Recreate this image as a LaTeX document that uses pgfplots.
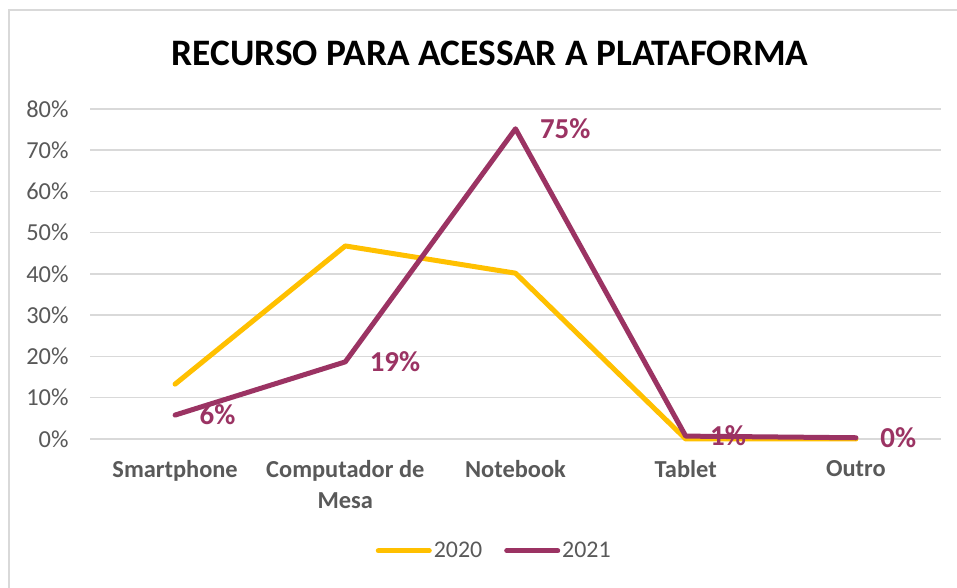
\documentclass[border=0pt]{standalone}
\usepackage{pgfplots}
\pgfplotsset{compat=1.18}
\usepackage{fontspec}
\setmainfont{Carlito}
\definecolor{yel}{RGB}{255,192,0}
\definecolor{plum}{RGB}{155,51,99}
\definecolor{gridc}{RGB}{217,217,217}
\definecolor{txt}{RGB}{89,89,89}
\begin{document}
\begin{tikzpicture}[x=1bp,y=1bp]
\useasboundingbox (0,0) rectangle (957,588);
\fill[white] (0,0) rectangle (957,588);
\draw[gridc, line width=1.5bp] (9,0) -- (9,578) -- (957,578);
\node[font=\fontsize{37.5}{42}\selectfont\bfseries] at (490,535) {RECURSO PARA ACESSAR A PLATAFORMA};
\begin{axis}[at={(90bp,149bp)}, anchor=south west, scale only axis,
  width=851bp, height=330bp,
  xmin=-0.5, xmax=4.5, ymin=0, ymax=80,
  ytick={0,10,...,80},
  yticklabel={\pgfmathprintnumber{\tick}\%},
  /pgf/number format/assume math mode=true,
  xtick={0,...,4},
  xticklabels={Smartphone,{Computador de\\Mesa},Notebook,Tablet,Outro},
  xticklabel style={align=center, font=\fontsize{24.5}{31}\selectfont\bfseries, text=txt, yshift=-18bp},
  yticklabel style={font=\fontsize{24.5}{28}\selectfont, text=txt, xshift=-18bp},
  axis line style={draw=none},
  major tick length=0pt,
  ymajorgrids, grid style={gridc, line width=1.5bp},
  clip=false,
  legend style={at={(0.475,-0.339)}, anchor=center, draw=none, fill=none,
    legend columns=2, font=\fontsize{24}{28}\selectfont, text=txt,
    /tikz/every even column/.append style={column sep=20bp}},
  legend image code/.code={\draw[#1] (0bp,0bp) -- (51bp,0bp);},
  legend cell align=left,
]
\addplot[yel, line width=5bp, line join=round, line cap=round] coordinates {
  (0,13.3) (1,46.8) (2,40.2) (3,0) (4,0)};
\addlegendentry{2020}
\addplot[plum, line width=5bp, line join=round, line cap=round,
  point meta=explicit symbolic,
  nodes near coords,
  nodes near coords style={anchor=west, inner sep=0pt, xshift=22bp, yshift=0bp,
    font=\fontsize{29}{32}\selectfont\bfseries, text=plum}] coordinates {
  (0,5.8)[6\%] (1,18.7)[19\%] (2,75.2)[75\%] (3,0.7)[1\%] (4,0.3)[0\%]};
\addlegendentry{2021}
\end{axis}
\end{tikzpicture}
\end{document}
